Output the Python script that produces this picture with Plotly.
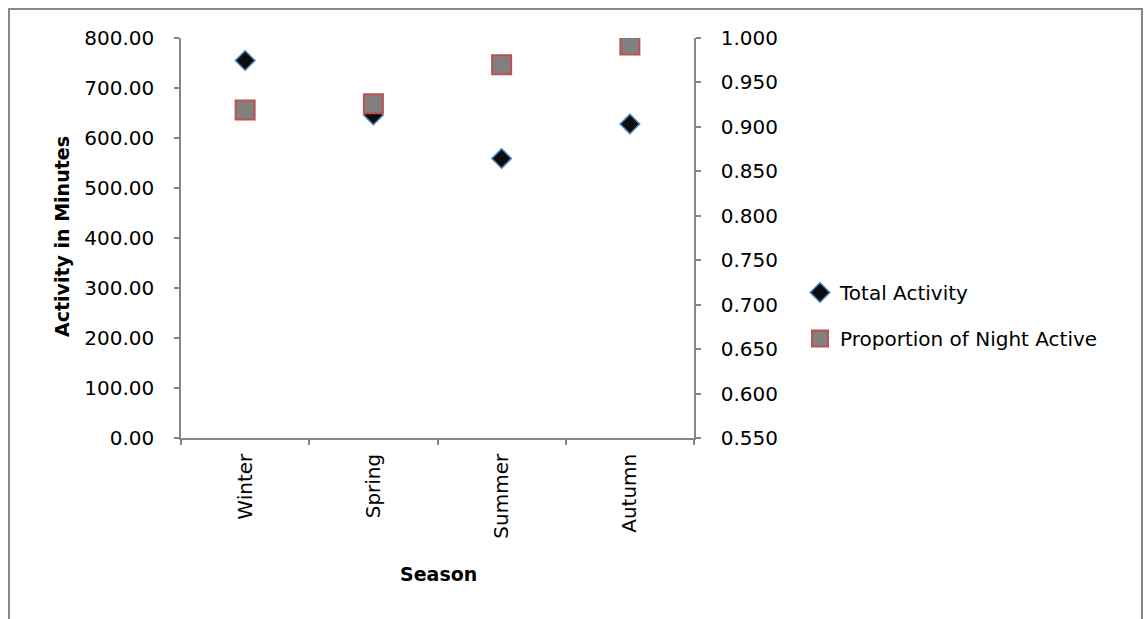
import plotly.graph_objects as go

seasons = ["Winter", "Spring", "Summer", "Autumn"]
total_activity = [755, 646, 559, 628]
night_proportion = [0.919, 0.926, 0.970, 0.992]

W, H = 1145, 619
L, R, T, B = 181, 694, 38, 438
pw, ph = R - L, B - T

font_family = "DejaVu Sans, sans-serif"
axis_grey = "#868686"


def px(x):
    return (x - L) / pw


def py(y):
    return (B - y) / ph


fig = go.Figure()
fig.add_trace(go.Scatter(
    x=seasons, y=total_activity, mode="markers", name="Total Activity",
    legendgroup="a",
    marker=dict(symbol="diamond", size=15, color="#0d0d0d",
                line=dict(color="#4f81bd", width=1.5)),
    yaxis="y",
))
fig.add_trace(go.Scatter(
    x=seasons, y=night_proportion, mode="markers", name="Proportion of Night Active",
    legendgroup="b",
    marker=dict(symbol="square", size=19, color="#808080",
                line=dict(color="#c0504d", width=2)),
    yaxis="y2",
))

tickfont = dict(family=font_family, size=20, color="#000000")

fig.update_layout(
    width=W, height=H,
    margin=dict(l=L, r=W - R, t=T, b=H - B, autoexpand=False),
    paper_bgcolor="white", plot_bgcolor="white",
    showlegend=True,
    legend=dict(
        x=px(800), y=py(273), xanchor="left", yanchor="top",
        font=dict(family=font_family, size=20, color="#000000"),
        tracegroupgap=17, traceorder="grouped",
        bgcolor="rgba(0,0,0,0)", itemwidth=30,
    ),
    xaxis=dict(
        type="category", range=[-0.5, 3.5], tickson="boundaries",
        ticks="outside", ticklen=5, tickcolor=axis_grey, tickwidth=1.5,
        showline=True, linecolor=axis_grey, linewidth=1.5,
        showgrid=False, zeroline=False, tickangle=-90,
        tickfont=tickfont, ticklabelstandoff=6,
    ),
    yaxis=dict(
        range=[0, 800], dtick=100, tickformat=".2f",
        ticks="outside", ticklen=5, tickcolor=axis_grey, tickwidth=1.5,
        showline=True, linecolor=axis_grey, linewidth=1.5,
        showgrid=False, zeroline=False,
        tickfont=tickfont, ticklabelstandoff=16,
    ),
    yaxis2=dict(
        range=[0.55, 1.0], dtick=0.05, tickformat=".3f",
        overlaying="y", side="right",
        ticks="outside", ticklen=5, tickcolor=axis_grey, tickwidth=1.5,
        showline=True, linecolor=axis_grey, linewidth=1.5,
        showgrid=False, zeroline=False,
        tickfont=tickfont, ticklabelstandoff=16,
    ),
)

# axis titles
fig.add_annotation(
    text="<b>Activity in Minutes</b>", xref="paper", yref="paper",
    x=px(62), y=py(237), xanchor="center", yanchor="middle",
    textangle=-90, showarrow=False,
    font=dict(family=font_family, size=19, color="#000000"),
)
fig.add_annotation(
    text="<b>Season</b>", xref="paper", yref="paper",
    x=px(438), y=py(574), xanchor="center", yanchor="middle",
    showarrow=False,
    font=dict(family=font_family, size=19, color="#000000"),
)

# chart frame
frame = dict(type="line", xref="paper", yref="paper",
             line=dict(color="#888888", width=2), layer="above")
fig.add_shape(**frame, x0=px(9), x1=px(9), y0=py(8), y1=py(625))
fig.add_shape(**frame, x0=px(9), x1=px(1142), y0=py(9), y1=py(9))
fig.add_shape(**frame, x0=px(1142), x1=px(1142), y0=py(8), y1=py(625))

fig.write_html("out.html")
